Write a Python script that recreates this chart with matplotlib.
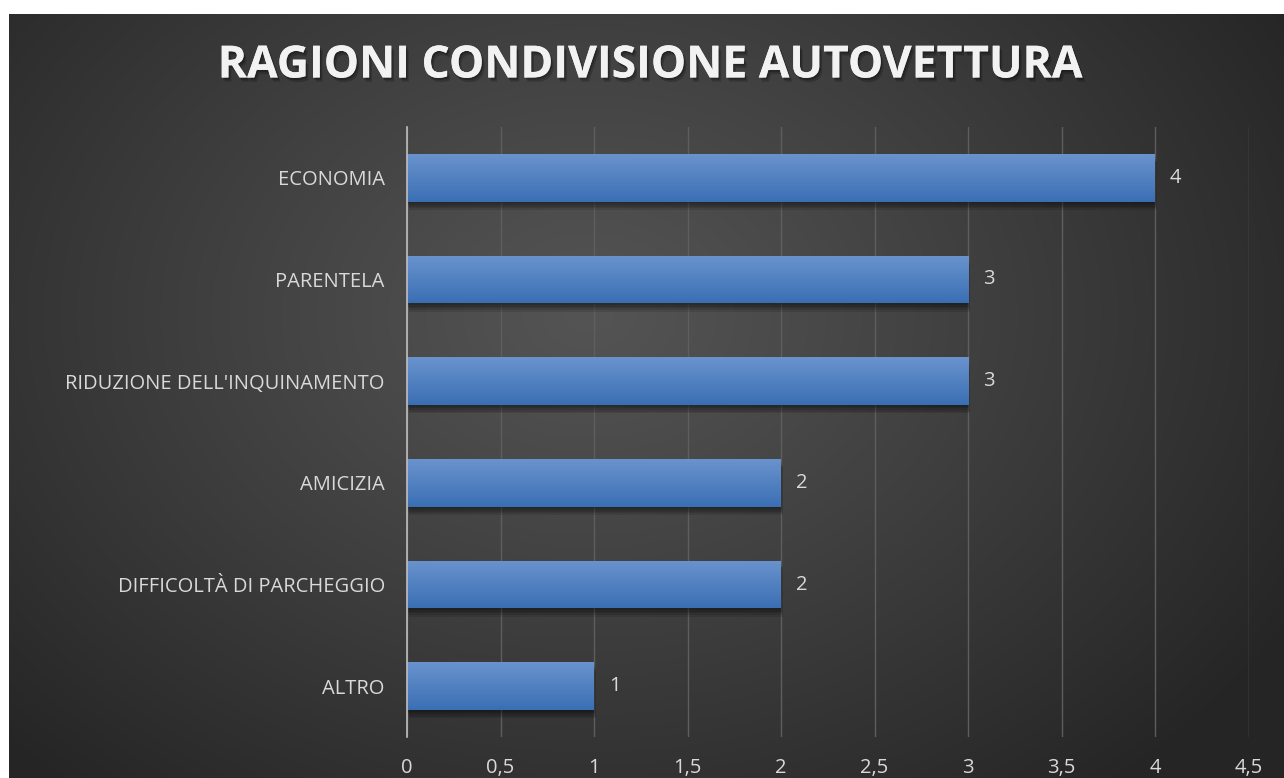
import matplotlib
matplotlib.use("Agg")
import matplotlib.pyplot as plt
import matplotlib.patheffects as pe
from matplotlib.colors import LinearSegmentedColormap
import numpy as np

# ── Data ─────────────────────────────────────────────────────────────────────
categories = ["ECONOMIA", "PARENTELA", "RIDUZIONE DELL'INQUINAMENTO",
              "AMICIZIA", "DIFFICOLTÀ DI PARCHEGGIO", "ALTRO"]
counts = [4, 3, 3, 2, 2, 1]
xticks = [0, 0.5, 1, 1.5, 2, 2.5, 3, 3.5, 4, 4.5]
xtick_labels = ["0", "0,5", "1", "1,5", "2", "2,5", "3", "3,5", "4", "4,5"]
title = "RAGIONI CONDIVISIONE AUTOVETTURA"

# ── Palette ──────────────────────────────────────────────────────────────────
TEXT = "#D9D9D9"
GRID = "#5E5E5E"
AXIS = "#BFBFBF"
BAR_TOP = "#6A93CE"
BAR_BOT = "#3A6FB4"

plt.rcParams["font.family"] = ["Open Sans", "DejaVu Sans"]

W, H = 1284, 778
fig = plt.figure(figsize=(W / 100, H / 100), dpi=100)
fig.patch.set_facecolor("white")

# radial background of the chart area (white strip left/top stays)
bg = fig.add_axes([9 / W, 0, 1 - 9 / W, 1 - 14 / H])
bg.axis("off")
yy, xx = np.mgrid[0:764, 0:1275]
cx, cy = 580, 300
r = np.sqrt(((xx - cx) / 820.0) ** 2 + ((yy - cy) / 620.0) ** 2)
r = np.clip(r, 0, 1)
shade = 0x54 - (0x54 - 0x25) * r ** 1.1
img = np.dstack([shade, shade, shade]) / 255.0
bg.imshow(img, aspect="auto", extent=(0, 1, 0, 1), origin="upper")
bg.set_xlim(0, 1)
bg.set_ylim(0, 1)

# ── Plot area ────────────────────────────────────────────────────────────────
ax = fig.add_axes([407 / W, 1 - 737 / H, 841.5 / W, 610 / H])
ax.patch.set_alpha(0)

# soft drop shadow under each bar
soft_shadow = [pe.SimplePatchShadow(offset=(0.3 * k, -1.2 * k), shadow_rgbFace="black", alpha=0.11)
               for k in range(1, 6)] + [pe.Normal()]

ypos = np.arange(len(categories))[::-1]
bar_h = 0.47
bars = ax.barh(ypos, counts, height=bar_h, color=BAR_BOT, zorder=3, path_effects=soft_shadow)

grad = LinearSegmentedColormap.from_list("bar", [BAR_BOT, BAR_TOP])
gvals = np.linspace(0, 1, 64).reshape(-1, 1)
for b, v, y in zip(bars, counts, ypos):
    im = ax.imshow(gvals, cmap=grad, aspect="auto", origin="lower",
                   extent=(0, v, y - bar_h / 2, y + bar_h / 2), zorder=4)
    im.set_clip_path(b)
    ax.text(v + 0.08, y, str(v), color=TEXT, fontsize=14.5, va="center", ha="left", zorder=5)

ax.set_xlim(0, 4.5)
ax.set_ylim(-0.5, len(categories) - 0.5)
ax.set_xticks(xticks)
ax.set_xticklabels(xtick_labels)
ax.set_yticks(ypos)
ax.set_yticklabels(categories)
ax.tick_params(axis="x", length=0, pad=15, labelsize=14.5, labelcolor=TEXT)
ax.tick_params(axis="y", length=0, pad=16, labelsize=14.5, labelcolor=TEXT)

ax.grid(axis="x", color=GRID, lw=1, zorder=0)
ax.set_axisbelow(True)
for s in ["top", "right", "bottom"]:
    ax.spines[s].set_visible(False)
ax.spines["left"].set_color(AXIS)
ax.spines["left"].set_linewidth(1.2)
ax.spines["left"].set_zorder(5)

# ── Title ────────────────────────────────────────────────────────────────────
fig.text(651 / W, 1 - 66 / H, title, ha="center", va="center",
         fontsize=32, fontweight="bold", color="#F2F2F2",
         path_effects=[pe.withSimplePatchShadow(offset=(1, -1.5), shadow_rgbFace="black", alpha=0.25),
                       pe.withSimplePatchShadow(offset=(2, -3), shadow_rgbFace="black", alpha=0.2)])

plt.savefig("out.png", dpi=100, facecolor=fig.get_facecolor())
plt.close()
